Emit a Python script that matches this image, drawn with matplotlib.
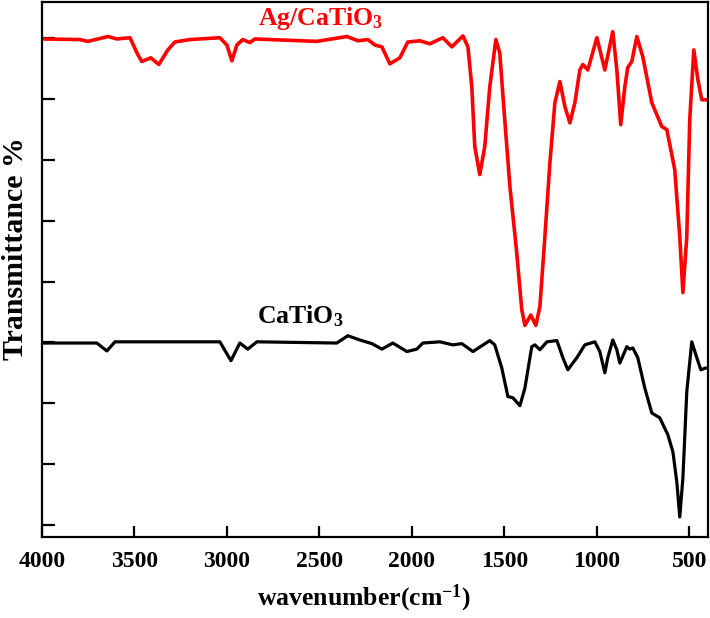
import matplotlib
matplotlib.use("Agg")
from matplotlib import pyplot as plt
from matplotlib.ticker import MultipleLocator

plt.rcParams["font.family"] = ["Liberation Serif", "DejaVu Serif"]
plt.rcParams["font.weight"] = "bold"
plt.rcParams["mathtext.fontset"] = "custom"
plt.rcParams["mathtext.rm"] = "Liberation Serif:bold"
plt.rcParams["mathtext.it"] = "Liberation Serif:bold"
plt.rcParams["mathtext.bf"] = "Liberation Serif:bold"

# Ag/CaTiO3 spectrum (offset trace, arbitrary units)
ag_wn = [4000, 3795, 3751, 3643, 3595, 3524, 3481, 3460, 3411, 3368, 3319, 3281,
         3200, 3038, 3000, 2973, 2946, 2914, 2876, 2849, 2514, 2351, 2292, 2238,
         2200, 2162, 2119, 2065, 2022, 1957, 1903, 1833, 1784, 1724, 1697, 1676,
         1660, 1633, 1606, 1579, 1546, 1525, 1498, 1470, 1433, 1406, 1389, 1357,
         1330, 1308, 1281, 1254, 1227, 1200, 1173, 1146, 1119, 1092, 1076, 1049,
         1000, 957, 914, 892, 871, 849, 833, 811, 784, 752, 703, 649, 622, 579,
         552, 535, 514, 498, 476, 454, 433, 406]
ag_t = [7.99, 7.98, 7.95, 8.03, 7.99, 8.01, 7.73, 7.62, 7.68, 7.57, 7.81, 7.94,
        7.98, 8.01, 7.89, 7.63, 7.89, 7.98, 7.93, 7.99, 7.95, 8.03, 7.96, 7.98,
        7.89, 7.86, 7.58, 7.68, 7.94, 7.96, 7.91, 8.01, 7.86, 8.04, 7.86, 7.20,
        6.22, 5.76, 6.22, 7.20, 7.98, 7.76, 6.66, 5.56, 4.47, 3.54, 3.28, 3.45,
        3.28, 3.59, 4.74, 5.95, 6.94, 7.29, 6.88, 6.61, 6.94, 7.48, 7.57, 7.48,
        8.01, 7.48, 8.11, 7.48, 6.58, 7.20, 7.52, 7.62, 8.03, 7.70, 6.94, 6.55,
        6.50, 5.84, 4.74, 3.82, 4.74, 6.66, 7.81, 7.32, 6.99, 6.99]

# CaTiO3 spectrum
ca_wn = [4000, 3703, 3649, 3605, 3038, 2978, 2930, 2887, 2838, 2406, 2346, 2281,
         2216, 2162, 2103, 2027, 1973, 1941, 1849, 1779, 1730, 1670, 1579, 1552,
         1514, 1481, 1454, 1416, 1389, 1352, 1335, 1308, 1270, 1216, 1184, 1157,
         1108, 1065, 1011, 984, 957, 941, 914, 892, 876, 838, 822, 806, 779, 741,
         703, 660, 616, 589, 568, 552, 535, 514, 487, 460, 438, 411]
ca_t = [2.99, 2.99, 2.86, 3.01, 3.01, 2.70, 2.99, 2.89, 3.01, 2.99, 3.11, 3.04,
        2.98, 2.89, 2.99, 2.85, 2.89, 2.99, 3.01, 2.96, 2.98, 2.85, 3.03, 2.96,
        2.58, 2.11, 2.09, 1.96, 2.25, 2.93, 2.96, 2.88, 3.01, 3.03, 2.75, 2.55,
        2.75, 2.96, 3.01, 2.85, 2.50, 2.75, 3.04, 2.88, 2.66, 2.93, 2.89, 2.91,
        2.75, 2.25, 1.84, 1.76, 1.48, 1.20, 0.71, 0.13, 0.77, 2.19, 3.01, 2.75,
        2.55, 2.58]

fig = plt.figure(figsize=(7.1, 6.18), dpi=100)
ax = fig.add_axes([0.059, 0.131, 0.938, 0.866])

ax.plot(ag_wn, ag_t, color="#ff0000", lw=2.6, solid_joinstyle="round",
        solid_capstyle="round")
ax.plot(ca_wn, ca_t, color="black", lw=2.3, solid_joinstyle="round",
        solid_capstyle="round")

ax.text(2492, 8.22, "Ag/CaTiO$_3$", color="#ff0000", fontsize=18.5,
        fontweight="bold", ha="center", va="baseline")
ax.text(2606, 3.32, "CaTiO$_3$", color="black", fontsize=18.5,
        fontweight="bold", ha="center", va="baseline")

ax.set_xlim(4000, 400)
ax.set_ylim(-0.2, 8.6)
ax.xaxis.set_major_locator(MultipleLocator(500))
ax.yaxis.set_major_locator(MultipleLocator(1))
ax.set_yticklabels([])
ax.tick_params(direction="in", length=8, width=1.6, labelsize=17, pad=10)
ax.tick_params(axis="y", length=9)
for lbl in ax.get_xticklabels():
    lbl.set_fontweight("bold")
for sp in ax.spines.values():
    sp.set_linewidth(1.6)

fig.text(0.0225, 0.597, "Transmittance %", rotation=90, fontsize=21.5,
         fontweight="bold", ha="center", va="center")
fig.text(0.513, 0.021, "wavenumber(cm$^{-1}$)", fontsize=18.5,
         fontweight="bold", ha="center", va="baseline")

plt.savefig("out.png", dpi=100)
